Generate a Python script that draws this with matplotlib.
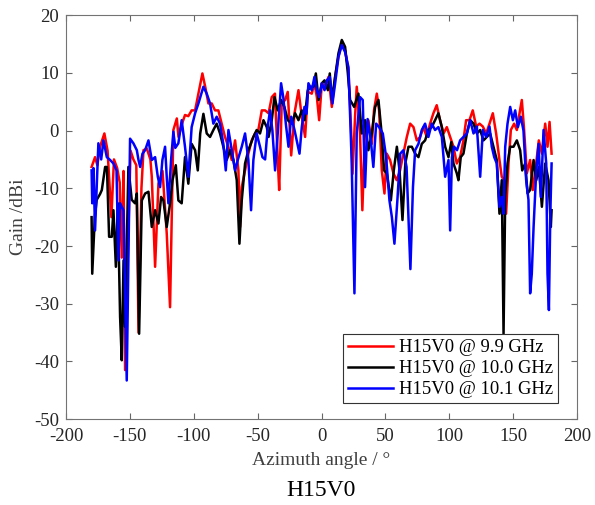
import matplotlib
matplotlib.use("Agg")
import matplotlib.pyplot as plt

# gain pattern readings, angle in degrees and gain in dBi
ang_99 = [-180, -177.3, -175.5, -173.4, -170, -167.5, -164.5, -162.5, -160, -158, -156.4, -155, -153.8,
          -151.5, -149.5, -147.3, -145, -143.3, -141, -139.4, -136.8, -134, -132.9, -130.3, -127.7, -124.5,
          -121.2, -118.6, -116, -113.3, -112, -109.5, -106.9, -104.3, -101.7, -99, -96.4, -93.3, -91,
          -88.6, -86, -83.4, -80.8, -78.2, -75.6, -73, -70.3, -67.7, -65.1, -63.8, -62.5, -59.9, -57.3,
          -54.7, -52.1, -49.5, -46.8, -44.2, -41.5, -39, -36.5, -34.3, -33.2, -31.2, -28.5, -26.5, -23.8,
          -21.2, -18.1, -15.5, -12.9, -10.8, -7.7, -5.6, -3.7, -1.9, 0.2, 2.8, 5.4, 8, 10.6, 13.2, 15.8,
          18.4, 21, 23.1, 24.2, 26.3, 27.5, 30, 31.9, 34, 36.6, 39.3, 41, 43.2, 45, 47.1, 49.2, 51, 53.6,
          56.2, 58.8, 61.4, 64, 66.7, 69.3, 71.9, 74.5, 77.1, 79.7, 82.3, 84.9, 87.5, 90.1, 92.7, 95.4,
          98, 100.6, 103.2, 105.8, 108.4, 111, 113.1, 115.7, 118.3, 121, 123.6, 126.2, 128.8, 131.4, 134,
          136.6, 139.2, 141, 142.9, 144.4, 146.3, 148.1, 150.7, 152.8, 154.9, 156.7, 158.5, 160.6, 163.2,
          165.3, 167.9, 170, 172.4, 175, 176.8, 178.4, 180]
gain_99 = [-6.3, -4.6, -6, -2.8, -0.5, -3.5, -15, -5, -6.5, -9, -22, -7, -41.5,
           -20, -3.5, -5, -6, -35, -10, -3.4, -3.1, -5, -8, -23.6, -9.2, -7,
           -17.8, -30.6, 0.1, 2.1, -1.1, 1, 2.7, 2.5, 3.5, 3.5, 6.4, 9.9, 7.5,
           4.7, 4.7, 3.5, 3.5, 1.2, -1.1, -2.8, -5.1, -1.7, -6.9, -16.7, -9.8, -6.9, -4,
           -1.7, -0.5, 0.1, 3.5, 3.5, 3, 5.8, 6.4, -5.1, -10.3, 4.7, 5.3, 6.7, -4.3,
           3, 7, 2.4, -1.1, 6.7, 6.4, 8.2, 5.8, 1.8, 8.2, 7.6, 9.3, 4.1, 9.3, 12.8, 15.1,
           13.9, 10.5, 0.1, -7.5, 2.9, 7.6, 0, -13.8, 0.6, 1.8, -2.3, 3.5, 6.4, 3.5, -6.9, -10.9, -4, -5.1,
           -7.4, -8.6, -6.9, -4, -1.1, 1.2, 0.6, -1.7, -1.1, 0.6, -1.1, 1.2, 3, 4.4, 1.8, -0.5,
           0.6, -1.1, -2.8, -5.7, -4.6, -1.7, 1.8, 1.8, 3.5, 0.7, 1.2, 0.7, -0.5, 1.2, 3,
           -0.5, -5.1, -8, -8.6, -14.4, -5.7, 0.1, 1.2, 0.1, 3, 5.3, 0.1, -7.4, -5.1,
           -10.3, -5.7, -1.7, -4, 1.2, -2.8, 1.5, -4]

ang_100 = [-180, -179.5, -177.5, -176, -173.4, -172, -169.4, -168, -166.3, -164.2, -162.9, -161, -159.5,
           -157.7, -156.4, -155, -153.8, -151.2, -148.6, -146, -144.6, -142.8, -140.7, -138.1, -135.5,
           -132.9, -130.3, -127.7, -125.6, -123.8, -121.2, -118.6, -116.7, -114.1, -112.1, -109.5, -106.9,
           -104.3, -101.7, -99, -96.9, -95, -92.5, -89.9, -87.3, -84.7, -82.1, -79.5, -76.9, -74.3, -71.6,
           -69, -66.4, -64.3, -62.5, -59.9, -57.3, -53.4, -50.8, -48.2, -45.5, -42.9, -41.5, -39, -36.9,
           -34.3, -31.7, -29.1, -26.5, -23.3, -20.7, -18.1, -15.5, -13.4, -10.8, -8.2, -6.4, -4.5, -2.4,
           0.2, 2.3, 4.9, 6.4, 8, 10.6, 13.2, 15.8, 18.4, 20.5, 22.3, 25.5, 28.8, 31.5, 34, 36.6, 39.3,
           41.9, 44.5, 47, 48.9, 51, 54.2, 56.5, 58.9, 61, 63.3, 65.5, 68, 70.6, 73.2, 75.8, 78.4, 81,
           83.6, 86.2, 88.8, 91.4, 94.1, 96.7, 99.3, 101.5, 103.2, 105.8, 107.1, 108.9, 111, 113.7, 116.3,
           118.9, 121.5, 124.1, 126.7, 129.3, 131.9, 134.5, 137.1, 139.2, 141, 142.4, 143.7, 145.5, 147.6,
           150.2, 152.8, 155.4, 157, 159.3, 161.2, 163.2, 165.9, 168, 170, 172.4, 175, 177.6, 179.4, 180]
gain_100 = [-15, -24.8, -15, -12, -11, -10.3, -6.3, -6.3, -18.4, -18.4, -13.8, -23.6, -12.6,
            -32.3, -39.8, -22.5, -34, -6.3, -12, -12.6, -10.9, -35.2, -12.1, -10.9, -10.6,
            -16.7, -13.8, -16.1, -11.5, -12.1, -16.7, -12.6, -8.6, -6, -12.1, -12.6, -4.6,
            -9.2, -2.3, -3.4, -6.9, -0.5, 2.9, -0.5, -1.1, 0.1, 1.2, -0.5, -2.8, -5.1, -3.4,
            -5.1, -8.6, -19.6, -12.1, -5.7, -3.4, -1.1, 0.1, -0.5, 1.8, 0.6, -1.1, 1.8, 5.8,
            3.5, 5.3, 4.1, 1.8, 1.2, 3, 1.8, 3.5, 1.8, 7, 7.6, 7.6, 9.9, 5.3,
            8.2, 8.7, 7, 9.9, 5.3, 9.3, 13.4, 15.7, 14.5, 10, 5.3, 4.1, 6.4, -0.5, 1.8, -3.4, -0.5,
            4.1, 5.3, -0.5, -6.9, -7.4, -12.1, -6.9, -2.8, -6.9, -15.5, -5.7, -2.8, -2.8, -4, -4.6, -2.3, -1.7,
            0.1, 0.6, 1.8, 3, 0.6, -2.8, -4.6, -2, -5.7, -7.4, -8.6, -4.6, -4, -0.5, 1.8,
            1.2, -0.5, 0.1, -1.7, -1.1, -0.5, -2.8, -5.1, -14.4, -8.6, -35.2, -11.5, -5.7, -2.8,
            -2.8, -1.7, -3.4, -6.9, -5.7, -10.9, -10.3, -5.1, -8.6, -6.3, -13.2, -5.7, -8.6, -16.7, -13.8]

ang_101 = [-180, -179.5, -178.5, -177.3, -174.7, -172.5, -170.7, -168.1, -165.5, -162.9, -160.5, -159,
           -157.7, -155, -153.8, -152.5, -151.2, -149.9, -147.3, -144.6, -143.3, -142, -140.2, -138.1,
           -135.5, -132.9, -130.3, -128.2, -126.4, -124.6, -122.5, -121.2, -119.9, -117.8, -116, -114.5,
           -112.1, -109.5, -106.9, -104.3, -101.7, -99, -96.4, -92.5, -89.9, -87.3, -84.7, -82.1, -79.5,
           -76.9, -75, -72.9, -70.3, -67.7, -65.6, -62.5, -59.9, -57.3, -55.2, -53.4, -50.8, -48.2, -46.3,
           -44.2, -42, -40.3, -38.5, -36.4, -34.5, -31.7, -30, -28, -25.9, -23.8, -21.2, -19.5, -17.3,
           -15.5, -13.4, -11.8, -10.3, -7.7, -5.6, -3.8, -1.9, 0.2, 2.3, 4.1, 6.4, 8.5, 10.6, 13.2, 15.8,
           18.4, 21, 23.5, 25.7, 27.5, 30.1, 32.2, 34, 36, 38.5, 40.5, 42.7, 45, 47.9, 50.5, 53.1, 55, 57,
           59.3, 61.5, 64, 66.5, 69.5, 71.5, 73.2, 75.8, 78.4, 81, 83.6, 86.2, 88.8, 91.4, 94.1, 96.7, 99.3,
           100.6, 102, 103.7, 106, 108.4, 111, 113.7, 116.3, 118.9, 121.5, 124.1, 126.2, 128.8, 131.4,
           133.2, 135.1, 137.1, 139.2, 141, 142.4, 143.7, 145.5, 147.6, 149.7, 151.5, 153.6, 155.9, 158,
           160.1, 161.9, 163.2, 164.5, 165.9, 167.9, 169.8, 171.6, 173.7, 175.8, 176.8, 177.9, 179, 180]
gain_101 = [-6.9, -12.6, -6.5, -17.3, -2.2, -5, -1.7, -4.6, -5.1, -5.7, -6.9, -22.5,
            -12.6, -13.8, -28.2, -43.3, -22.5, -1.4, -2.2, -3.4, -5.1, -6.3, -4, -3.4,
            -1.7, -5.1, -4.6, -8, -9.8, -5.1, -2.8, -8, -12.6, -5.1, -0.2, -3,
            -2.2, 1.8, -2.8, -8, 0.6, 3, 4.7, 7.6, 6.4, 4.7, 1.2, 2.4, 1.2,
            -2.3, -6.9, 0.1, -3.4, -6.9, -5.1, -2.8, -0.5, -5.1, -13.8, -5.1, -0.5, -2.8, -4.6,
            -5, 1, 3.5, 0, -6.9, -1, 8.2, 5.8, 1.2, -2.8, 2.4, 0.1, -1.7, -4,
            0.6, 4.1, 2.9, 8.2, 7, 9.3, 7, 5.8, 8.2, 7, 8.7, 9.3, 4.7, 8.2, 12.8, 14.8,
            13.6, 11, -5, -28.2, -0.5, 5.8, 5.3, -9.8, 2, -1.7, -6.3, 1.2, 0.6, -0.5, -4.6, -12.1, -15, -19.6,
            -12.1, -4, -3.4, -6.3, -24, -9.8, -3.4, -2.3, 0.1, 1.2, -1.1, 1.2, 0.1, 0.6, -1.1, -8, -5.1,
            -17.3, -4.6, -2.8, -3.4, -1.7, -1.1, -0.5, 1.8, -0.5, 0.7, -8, 0.1, -1.1, 0.7,
            -2.8, -4.6, -5.7, -13.2, -11.5, -14.4, -2.8, 1.2, 4.1, 1.8, 3.5, 0.6, 2.4, 0,
            -8.6, -12, -28.2, -24.8, -16.7, -7.4, -2.3, -11.5, 0.1, -5.7, -24.8, -31.1, -14.4, -5.7]

series_labels = ["H15V0 @ 9.9 GHz", "H15V0 @ 10.0 GHz", "H15V0 @ 10.1 GHz"]
x_ticks = [-200, -150, -100, -50, 0, 50, 100, 150, 200]
y_ticks = [-50, -40, -30, -20, -10, 0, 10, 20]

plt.rcParams['font.family'] = ['Liberation Serif', 'DejaVu Serif']
plt.rcParams['axes.unicode_minus'] = False

fig = plt.figure(figsize=(5.95, 5.05), dpi=100)
ax = fig.add_axes([0.111, 0.170, 0.859, 0.800])

ax.plot(ang_99, gain_99, color='red', lw=1.8, label=series_labels[0])
ax.plot(ang_100, gain_100, color='black', lw=1.8, label=series_labels[1])
ax.plot(ang_101, gain_101, color='blue', lw=1.8, label=series_labels[2])

ax.set_xlim(-200, 200)
ax.set_ylim(-50, 20)
ax.set_xticks(x_ticks)
ax.set_yticks(y_ticks)
ax.tick_params(direction='in', top=True, right=True, labelsize=13.5, length=4.5,
               color='0.4', labelcolor='0.15')
ax.tick_params(axis='x', pad=6.5)
ax.tick_params(axis='y', pad=5)
for sp in ax.spines.values():
    sp.set_color('0.45')
    sp.set_linewidth(0.8)

ax.set_xlabel("Azimuth angle / °", fontsize=14, color='0.25')
ax.xaxis.set_label_coords(0.5, -0.082)
ax.set_ylabel("Gain /dBi", fontsize=14, color='0.25')
ax.yaxis.set_label_coords(-0.076, 0.5)

leg = ax.legend(loc='lower right', bbox_to_anchor=(558 / 595, 1 - 403 / 505),
                bbox_transform=fig.transFigure, borderaxespad=0,
                fontsize=13.4, handlelength=2.42, frameon=True, fancybox=False,
                borderpad=0.25, labelspacing=0.22, handletextpad=0.34)
leg.get_frame().set_edgecolor('0.2')
leg.get_frame().set_linewidth(0.8)
leg.get_frame().set_alpha(1)

fig.text(321.5 / 595, 1 - 490 / 505, "H15V0", fontsize=17, ha='center', va='center')

fig.savefig("out.png", dpi=100)
